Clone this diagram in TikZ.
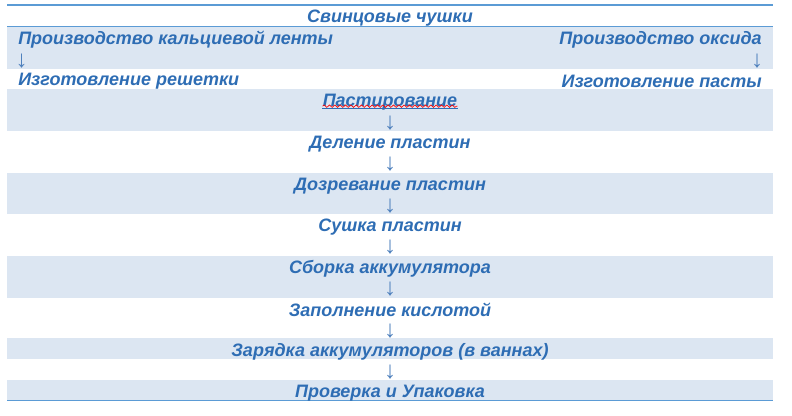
\documentclass[tikz,border=0pt]{standalone}
\usepackage{fontspec}
\setmainfont{Liberation Sans}
\usetikzlibrary{decorations.pathmorphing}
\definecolor{txtblue}{HTML}{2E6DB4}
\definecolor{arrblue}{HTML}{4F81BD}
\definecolor{rulblue}{HTML}{5B9BD5}
\definecolor{bandblue}{HTML}{DCE6F2}
\tikzset{
  lbl/.style={inner sep=0pt, yshift=-1.5pt, text=txtblue, font=\fontsize{13.5}{15}\selectfont\bfseries\itshape},
  arr/.style={inner sep=0pt, yshift=-0.75pt, text=arrblue, font=\fontsize{18}{20}\selectfont},
  rul/.style={draw=rulblue, line width=1pt}
}
\begin{document}
\begin{tikzpicture}[x=0.75pt,y=-0.75pt]
\useasboundingbox (0,0) rectangle (792,415);
% shaded bands
\fill[bandblue] (7,26.8) rectangle (773,68.5);
\fill[bandblue] (7,89.4) rectangle (773,131.1);
\fill[bandblue] (7,172.7) rectangle (773,214.4);
\fill[bandblue] (7,255.8) rectangle (773,297.5);
\fill[bandblue] (7,338.4) rectangle (773,359.2);
\fill[bandblue] (7,380) rectangle (773,400.8);
% rules
\draw[rul] (7,5) -- (773,5);
\draw[rul] (7,26.8) -- (773,26.8);
\draw[rul] (7,400.8) -- (773,400.8);
% texts
\node[lbl] (n0) at (390,16) {Свинцовые чушки};
\node[lbl, anchor=west] (l1) at (18,38) {Производство кальциевой ленты};
\node[lbl, anchor=east] (r1) at (762,38) {Производство оксида};
\node[arr] (la) at (21.5,60) {↓};
\node[arr] (ra) at (757,60) {↓};
\node[lbl, anchor=west] (l2) at (18,79.5) {Изготовление решетки};
\node[lbl, anchor=east] (r2) at (762,79.5) {Изготовление пасты};
\node[lbl] (n1) at (390,100.5) {Пастирование};
\draw[txtblue, line width=0.6pt] ([yshift=1.5]n1.south west) -- ([yshift=1.5]n1.south east);
\draw[red, line width=0.5pt, decorate, decoration={snake, amplitude=0.9, segment length=4}] ([yshift=3.5]n1.south west) -- ([yshift=3.5]n1.south east);
\node[arr] (a1) at (390,122) {↓};
\node[lbl] (n2) at (390,142) {Деление пластин};
\node[arr] (a2) at (390,163.5) {↓};
\node[lbl] (n3) at (390,184) {Дозревание пластин};
\node[arr] (a3) at (390,205.5) {↓};
\node[lbl] (n4) at (390,225) {Сушка пластин};
\node[arr] (a4) at (390,246.5) {↓};
\node[lbl] (n5) at (390,267) {Сборка аккумулятора};
\node[arr] (a5) at (390,288.5) {↓};
\node[lbl] (n6) at (390,308) {Заполнение кислотой};
\node[arr] (a6) at (390,330.5) {↓};
\node[lbl] (n7) at (390,350) {Зарядка аккумуляторов (в ваннах)};
\node[arr] (a7) at (390,371) {↓};
\node[lbl] (n8) at (390,391) {Проверка и Упаковка};
\end{tikzpicture}
\end{document}
